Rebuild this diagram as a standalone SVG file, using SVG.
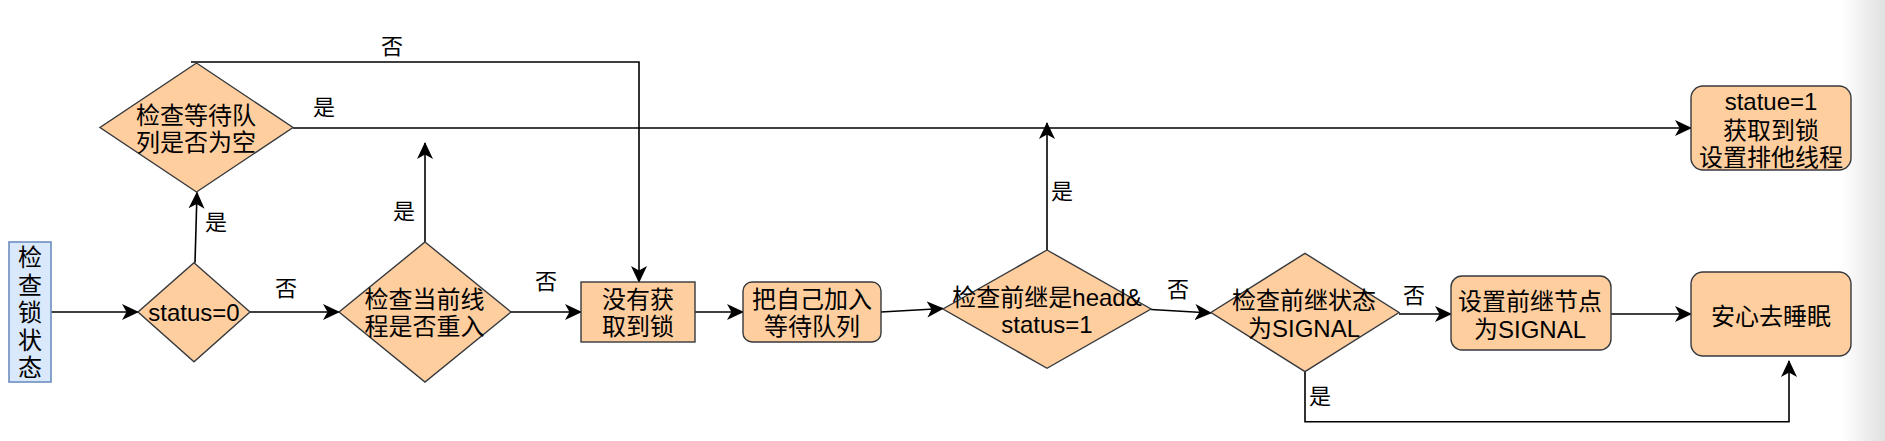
<svg xmlns="http://www.w3.org/2000/svg" width="1885" height="441" viewBox="0 0 1885 441">
  <defs>
    <linearGradient id="edgeShade" x1="0" y1="0" x2="1" y2="0">
      <stop offset="0" stop-color="#ffffff"/>
      <stop offset="1" stop-color="#e0e0e0"/>
    </linearGradient>
    <marker id="arrow" viewBox="0 0 17 17" refX="16" refY="8.5" markerWidth="17" markerHeight="17" markerUnits="userSpaceOnUse" orient="auto">
      <path d="M17,8.5 L0,0.5 L4.5,8.5 L0,16.5 Z" fill="#000"/>
    </marker>
  </defs>
  <style>
    .node { fill: #ffce9f; stroke: #36393d; stroke-width: 1.4; }
    .start { fill: #dae8fc; stroke: #6c8ebf; stroke-width: 1.6; }
    .t { font-family: "Liberation Sans", "Noto Sans CJK SC", sans-serif; font-size: 24px; fill: #000; text-anchor: middle; }
    .lbl { font-family: "Liberation Sans", "Noto Sans CJK SC", sans-serif; font-size: 22px; fill: #000; text-anchor: middle; }
    .edge { fill: none; stroke: #000; stroke-width: 1.6; marker-end: url(#arrow); }
    .edge-plain { fill: none; stroke: #000; stroke-width: 1.6; }
  </style>

  <rect x="0" y="0" width="1885" height="441" fill="#ffffff"/>
  <rect x="1842" y="0" width="43" height="441" fill="url(#edgeShade)"/>

  <g id="connectors">
    <path class="edge" d="M51,312 H138"/>
    <path class="edge" d="M195,262.7 L197,192.5"/>
    <path class="edge" d="M191,62 H639 V282"/>
    <path class="edge" d="M293,128 H1691"/>
    <path class="edge" d="M250,312 H339"/>
    <path class="edge" d="M425,242 V143"/>
    <path class="edge" d="M511,312 H581"/>
    <path class="edge" d="M695,312 H743"/>
    <path class="edge" d="M881,312 L943,308.5"/>
    <path class="edge" d="M1047,250 V123"/>
    <path class="edge" d="M1151,309.5 L1211,313"/>
    <path class="edge" d="M1399,314 H1451"/>
    <path class="edge" d="M1611,314 H1691"/>
    <path class="edge" d="M1305,372 V421.7 H1789 V361"/>
    <text class="lbl" x="392" y="53.5">否</text>
    <text class="lbl" x="324" y="115">是</text>
    <text class="lbl" x="216" y="230">是</text>
    <text class="lbl" x="286" y="296">否</text>
    <text class="lbl" x="404" y="218.5">是</text>
    <text class="lbl" x="546" y="288.5">否</text>
    <text class="lbl" x="1062" y="199">是</text>
    <text class="lbl" x="1178" y="297">否</text>
    <text class="lbl" x="1414" y="303">否</text>
    <text class="lbl" x="1320" y="403.5">是</text>
  </g>

  <g id="start">
    <rect class="start" x="9" y="242" width="42" height="140"/>
    <text class="t" x="30" y="266">检</text>
    <text class="t" x="30" y="293.5">查</text>
    <text class="t" x="30" y="321">锁</text>
    <text class="t" x="30" y="348.5">状</text>
    <text class="t" x="30" y="376">态</text>
  </g>

  <g id="status0">
    <polygon class="node" points="194,262.7 250,312 194,361.7 138,312"/>
    <text class="t" x="194" y="321">status=0</text>
  </g>

  <g id="checkQueue">
    <polygon class="node" points="196.5,63 293,127.5 196.5,192 100,127.5"/>
    <text class="t" x="196" y="124">检查等待队</text>
    <text class="t" x="196" y="151">列是否为空</text>
  </g>

  <g id="checkReentrant">
    <polygon class="node" points="425,242 511,312 425,382 339,312"/>
    <text class="t" x="424.5" y="307.5">检查当前线</text>
    <text class="t" x="424.5" y="334.5">程是否重入</text>
  </g>

  <g id="notAcquired">
    <rect class="node" x="581" y="282" width="114" height="60"/>
    <text class="t" x="638" y="307.5">没有获</text>
    <text class="t" x="638" y="334.5">取到锁</text>
  </g>

  <g id="enqueue">
    <rect class="node" x="743" y="282" width="138" height="60" rx="9" ry="9"/>
    <text class="t" x="812" y="307.5">把自己加入</text>
    <text class="t" x="812" y="334.5">等待队列</text>
  </g>

  <g id="checkHead">
    <polygon class="node" points="1047,250 1151,309 1047,368.3 943,309"/>
    <text class="t" x="1047" y="305.5">检查前继是head&amp;</text>
    <text class="t" x="1047" y="333">status=1</text>
  </g>

  <g id="checkSignal">
    <polygon class="node" points="1305,253.3 1399,312.5 1305,371.7 1211,312.5"/>
    <text class="t" x="1304" y="309">检查前继状态</text>
    <text class="t" x="1304" y="337">为SIGNAL</text>
  </g>

  <g id="setSignal">
    <rect class="node" x="1451" y="276" width="160" height="74" rx="11" ry="11"/>
    <text class="t" x="1530" y="309.5">设置前继节点</text>
    <text class="t" x="1530" y="337.5">为SIGNAL</text>
  </g>

  <g id="acquired">
    <rect class="node" x="1691" y="86" width="160" height="84" rx="12" ry="12"/>
    <text class="t" x="1771" y="109.5">statue=1</text>
    <text class="t" x="1771" y="138.5">获取到锁</text>
    <text class="t" x="1771" y="166">设置排他线程</text>
  </g>

  <g id="sleep">
    <rect class="node" x="1691" y="272" width="160" height="84" rx="12" ry="12"/>
    <text class="t" x="1771" y="324.5">安心去睡眠</text>
  </g>
</svg>
